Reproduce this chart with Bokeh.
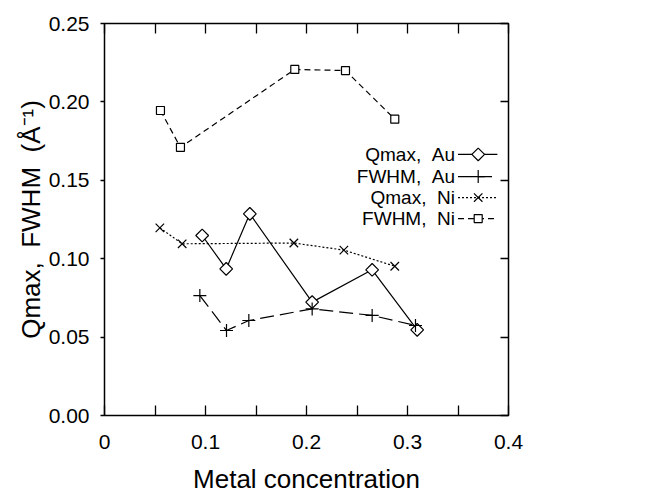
import math
from bokeh.plotting import figure
from bokeh.models import (Range1d, LinearAxis, FixedTicker, Label, PrintfTickFormatter,
                          CustomLabelingPolicy)
from bokeh.embed import file_html
from bokeh.resources import INLINE

# ---- data ----
qmax_au_x = [0.0967, 0.1205, 0.1439, 0.2056, 0.2650, 0.3096]
qmax_au_y = [0.1148, 0.0935, 0.1286, 0.0723, 0.0929, 0.0546]

fwhm_au_x = [0.0944, 0.1208, 0.1429, 0.2056, 0.2650, 0.3079]
fwhm_au_y = [0.0765, 0.0542, 0.0606, 0.0680, 0.0638, 0.0574]

qmax_ni_x = [0.0548, 0.0769, 0.1875, 0.2370, 0.2874]
qmax_ni_y = [0.1197, 0.1095, 0.1100, 0.1055, 0.0952]

fwhm_ni_x = [0.0554, 0.0752, 0.1884, 0.2386, 0.2874]
fwhm_ni_y = [0.1945, 0.1710, 0.2207, 0.2200, 0.1890]

x_ticks = [0, 0.1, 0.2, 0.3, 0.4]
x_minor = [0.05, 0.15, 0.25, 0.35]
x_labels = {0: "0", 0.1: "0.1", 0.2: "0.2", 0.3: "0.3", 0.4: "0.4"}
y_ticks = [0, 0.05, 0.10, 0.15, 0.20, 0.25]

NB = "\u00a0"
legend_names = ["Qmax," + NB * 2 + "Au", "FWHM," + NB * 2 + "Au",
                "Qmax," + NB * 2 + "Ni", "FWHM," + NB * 2 + "Ni"]
legend_rows = [0.1665, 0.1524, 0.1390, 0.1256]
y_title = "Qmax," + NB * 2 + "FWHM" + NB * 2 + "(Å⁻¹)"
x_title = "Metal concentration"

FONT = "Liberation Sans"

p = figure(width=648, height=498, output_backend="svg", toolbar_location=None,
           x_range=Range1d(0, 0.4), y_range=Range1d(0, 0.25),
           min_border_left=104, min_border_right=140, min_border_top=23,
           min_border_bottom=83)
p.xgrid.visible = False
p.ygrid.visible = False
p.outline_line_color = "black"
p.outline_line_width = 1.5
p.background_fill_color = "white"
p.border_fill_color = "white"

# bottom axis
xa = p.xaxis[0]
xa.ticker = FixedTicker(ticks=x_ticks, minor_ticks=x_minor)
xa.major_label_overrides = x_labels
xa.major_tick_in = 10
xa.major_tick_out = 0
xa.minor_tick_in = 10
xa.minor_tick_out = 0
xa.axis_line_color = None
xa.major_tick_line_width = 1.3
xa.minor_tick_line_width = 1.3
xa.major_label_standoff = 19
xa.major_label_text_font = FONT
xa.major_label_text_font_size = "21px"
xa.major_label_text_color = "black"
xa.axis_label = x_title
xa.axis_label_text_font = FONT
xa.axis_label_text_font_style = "normal"
xa.axis_label_text_font_size = "26px"
xa.axis_label_standoff = 12
xa.axis_label_text_color = "black"

# left axis
ya = p.yaxis[0]
ya.ticker = FixedTicker(ticks=y_ticks)
ya.formatter = PrintfTickFormatter(format="%.2f")
ya.major_tick_in = 0
ya.major_tick_out = 4
ya.minor_tick_in = 0
ya.minor_tick_out = 0
ya.axis_line_color = None
ya.major_tick_line_width = 1.3
ya.major_label_standoff = 11
ya.major_label_text_font = FONT
ya.major_label_text_font_size = "21px"
ya.major_label_text_color = "black"
ya.axis_label = y_title
ya.axis_label_text_font = FONT
ya.axis_label_text_font_style = "normal"
ya.axis_label_text_font_size = "26px"
ya.axis_label_standoff = 0
ya.axis_label_text_color = "black"

hide_all = "for (const i of indices) { indices.unset(i) }\nreturn indices"

# top axis (ticks only)
ta = LinearAxis(ticker=FixedTicker(ticks=x_ticks, minor_ticks=x_minor))
ta.major_tick_in = 10
ta.major_tick_out = 0
ta.minor_tick_in = 10
ta.minor_tick_out = 0
ta.axis_line_color = None
ta.major_tick_line_width = 1.3
ta.minor_tick_line_width = 1.3
ta.major_label_text_font_size = "2px"
ta.major_label_standoff = 0
ta.major_label_policy = CustomLabelingPolicy(code=hide_all)
p.add_layout(ta, "above")

# right axis (ticks only)
ra = LinearAxis(ticker=FixedTicker(ticks=y_ticks))
ra.major_tick_in = 8
ra.major_tick_out = 0
ra.minor_tick_in = 0
ra.minor_tick_out = 0
ra.axis_line_color = None
ra.major_tick_line_width = 1.3
ra.major_label_text_font_size = "2px"
ra.major_label_standoff = 0
ra.major_label_policy = CustomLabelingPolicy(code=hide_all)
p.add_layout(ra, "right")

LW = 1.2
styles = [
    dict(x=qmax_au_x, y=qmax_au_y, dash="solid", marker="square", size=9, angle=math.pi / 4),
    dict(x=fwhm_au_x, y=fwhm_au_y, dash="14 6", marker="cross", size=13, angle=0),
    dict(x=qmax_ni_x, y=qmax_ni_y, dash="2 2", marker="x", size=12, angle=0),
    dict(x=fwhm_ni_x, y=fwhm_ni_y, dash="6 4", marker="square", size=8, angle=0),
]

for s in styles:
    p.line(s["x"], s["y"], line_color="black", line_width=LW, line_dash=s["dash"])
    p.scatter(s["x"], s["y"], marker=s["marker"], size=s["size"], angle=s["angle"],
              line_color="black", line_width=LW, fill_color="white")

# legend (text right, sample to the right)
leg_text_x = 0.3470
leg_line_x0 = 0.3500
leg_line_x1 = 0.3890
leg_mark_x = 0.3700
for name, yy, s in zip(legend_names, legend_rows, styles):
    p.add_layout(Label(x=leg_text_x, y=yy, text=name, text_align="right",
                       text_baseline="middle", text_font=FONT,
                       text_font_size="19px", text_color="black"))
    p.line([leg_line_x0, leg_line_x1], [yy, yy], line_color="black", line_width=LW,
           line_dash=s["dash"])
    p.scatter([leg_mark_x], [yy], marker=s["marker"], size=s["size"], angle=s["angle"],
              line_color="black", line_width=LW, fill_color="white")

open("out.html", "w").write(file_html(p, INLINE))
